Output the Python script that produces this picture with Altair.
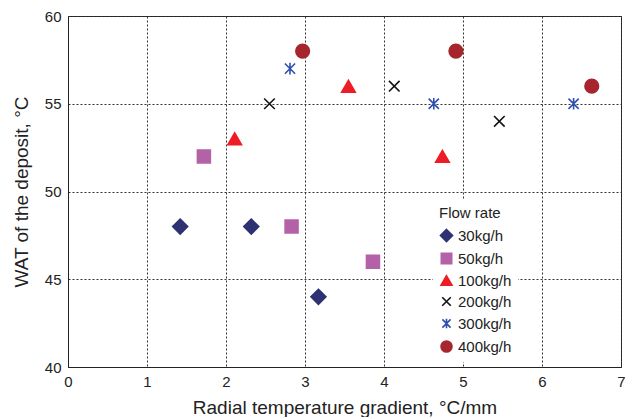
import altair as alt
import pandas as pd

series = ["30kg/h", "50kg/h", "100kg/h", "200kg/h", "300kg/h", "400kg/h"]
x_30 = [1.42, 2.32, 3.17]
y_30 = [48, 48, 44]
x_50 = [1.72, 2.83, 3.86]
y_50 = [52, 48, 46]
x_100 = [2.11, 3.55, 4.74]
y_100 = [53, 56, 52]
x_200 = [2.55, 4.13, 5.46]
y_200 = [55, 56, 54]
x_300 = [2.81, 4.63, 6.40]
y_300 = [57, 55, 55]
x_400 = [2.97, 4.91, 6.63]
y_400 = [58, 58, 56]

xs = [x_30, x_50, x_100, x_200, x_300, x_400]
ys = [y_30, y_50, y_100, y_200, y_300, y_400]
rows = []
for s, xv, yv in zip(series, xs, ys):
    for a, b in zip(xv, yv):
        rows.append({"flow": s, "grad": a, "wat": b})
df = pd.DataFrame(rows)

colors = ["#2e3172", "#b462a8", "#ee1c25", "#111111", "#2e4fae", "#a7262d"]
shapes = ["M0,-1.1L1.1,0L0,1.1L-1.1,0Z",
          "M-0.95,-0.95L0.95,-0.95L0.95,0.95L-0.95,0.95Z",
          "triangle-up",
          "M-0.78,-0.78L0.78,0.78M-0.78,0.78L0.78,-0.78",
          "M-0.75,-0.75L0.75,0.75M-0.75,0.75L0.75,-0.75M0,-0.85L0,0.85",
          "circle"]

FONT = "Liberation Sans"

chart = alt.Chart(df).mark_point(filled=True, strokeWidth=1.6, opacity=1, size=185).encode(
    x=alt.X("grad:Q", title="Radial temperature gradient, °C/mm",
            scale=alt.Scale(domain=[0, 7], nice=False),
            axis=alt.Axis(values=[0, 1, 2, 3, 4, 5, 6, 7], labelOverlap=False)),
    y=alt.Y("wat:Q", title="WAT of the deposit, °C",
            scale=alt.Scale(domain=[40, 60], nice=False, zero=False),
            axis=alt.Axis(values=[40, 45, 50, 55, 60], labelOverlap=False)),
    shape=alt.Shape("flow:N", sort=series, title="Flow rate",
                    scale=alt.Scale(domain=series, range=shapes)),
    fill=alt.Fill("flow:N", sort=series, title="Flow rate",
                  scale=alt.Scale(domain=series, range=colors)),
    stroke=alt.Stroke("flow:N", sort=series, title="Flow rate",
                      scale=alt.Scale(domain=series, range=colors)),
).properties(
    width=553, height=351,
    autosize=alt.AutoSizeParams(type="none"),
    padding={"left": 60, "top": 8, "right": 4, "bottom": 50},
).configure_view(
    stroke="#222222", strokeWidth=1
).configure_axis(
    grid=True, gridDash=[2, 2], gridColor="#333333", gridWidth=1, gridOpacity=1,
    ticks=False, domainColor="#222222", domainWidth=1,
    labelFont=FONT, labelFontSize=15, labelColor="#222222", labelPadding=7,
    titleFont=FONT, titleFontSize=19, titleFontWeight="normal", titleColor="#222222",
    labelFlush=False,
).configure_axisX(
    titlePadding=9,
).configure_axisY(
    titlePadding=13,
).configure_legend(
    orient="none", legendX=365, legendY=184,
    fillColor="white", padding=6,
    titleFont=FONT, titleFontSize=15, titleFontWeight="normal", titleColor="#222222",
    labelFont=FONT, labelFontSize=15, labelColor="#222222",
    symbolSize=120, symbolStrokeWidth=1.6, rowPadding=5, labelOffset=4,
    titlePadding=7,
)

chart.save("out.html", embed_options={"renderer": "svg", "actions": False})
